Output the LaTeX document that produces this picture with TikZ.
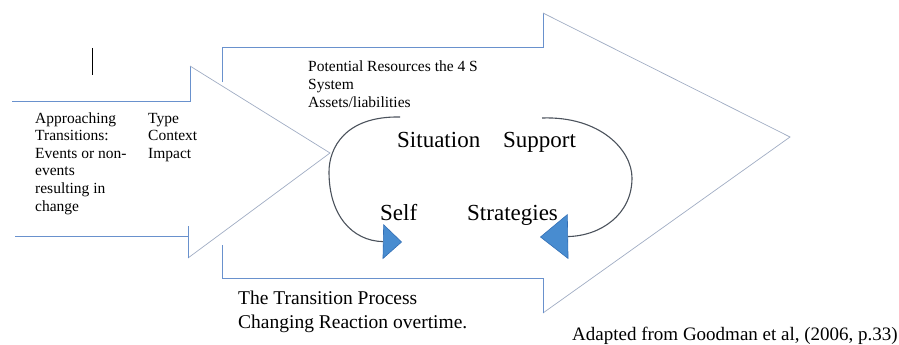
\documentclass[tikz,border=0pt]{standalone}
\usepackage{fontspec}
\setmainfont{Liberation Serif}
\usetikzlibrary{arrows.meta}
\definecolor{rimblue}{RGB}{105,145,205}
\definecolor{slantgray}{RGB}{160,172,195}
\definecolor{tipblue}{RGB}{72,140,208}
\definecolor{tipedge}{RGB}{50,110,180}
\definecolor{loopgray}{RGB}{75,82,92}
\begin{document}
\begin{tikzpicture}[x=1pt, y=-1pt,
    rim/.style={draw=rimblue, line width=0.8pt},
    slant/.style={draw=slantgray, line width=0.7pt},
    small/.style={anchor=base west, align=left, inner sep=0pt, font=\fontsize{15.5}{17.6}\selectfont},
    big/.style={anchor=base west, inner sep=0pt, font=\fontsize{23}{26}\selectfont},
    mid/.style={anchor=base west, align=left, inner sep=0pt, font=\fontsize{19.5}{24.5}\selectfont},
    loop/.style={draw=loopgray, line width=1.1pt}]
  \useasboundingbox (0,0) rectangle (899,345);
  % first arrow
  \draw[rim] (12,101) -- (190,101) -- (190,66);
  \draw[slant] (190,66) -- (330,153) -- (188,258);
  \draw[rim] (15,236) -- (188,236);
  \draw[rim] (188,226) -- (188,258);
  \draw (92,48) -- (92,75);
  % second arrow
  \draw[rim] (222,82) -- (222,47) -- (543,47) -- (543,13);
  \draw[slant] (543,13) -- (790,137) -- (543,313);
  \draw[rim] (543,313) -- (543,278) -- (222,278) -- (222,245);
  % texts (base = last line)
  \node[small] (appr) at (35,211) {Approaching\\Transitions:\\Events or non-\\events\\resulting in\\change};
  \node[small] (type) at (148,158.2) {Type\\Context\\Impact};
  \node[small, font=\fontsize{15.5}{18.3}\selectfont] (pot) at (308,107.6) {Potential Resources the 4 S\\System\\Assets/liabilities};
  \node[big] (sit) at (397,147) {Situation};
  \node[big] (sup) at (503,147) {Support};
  \node[big] (self) at (380,220) {Self};
  \node[big] (strat) at (467,220) {Strategies};
  \node[mid] (proc) at (238,328.5) {The Transition Process\\Changing Reaction overtime.};
  \node[anchor=base west, inner sep=0pt, font=\fontsize{19}{22}\selectfont] (src) at (572,340) {Adapted from Goodman et al, (2006, p.33)};
  % loops
  \coordinate (sitL) at (400,117);
  \coordinate (selfT) at (402,242);
  \coordinate (supR) at (542,118);
  \coordinate (stratT) at (540,237);
  \draw[loop, -{Triangle[length=19pt,width=35pt,fill=tipblue,color=tipedge,line width=0.6pt]}]
    (sitL) .. controls (345,116) and (329,148) .. (329,172)
    .. controls (329,215) and (352,241) .. (selfT);
  \draw[loop, -{Triangle[length=28pt,width=45pt,fill=tipblue,color=tipedge,line width=0.6pt]}]
    (supR) .. controls (600,116) and (632,150) .. (632,178)
    .. controls (632,215) and (600,236) .. (stratT);
\end{tikzpicture}
\end{document}
